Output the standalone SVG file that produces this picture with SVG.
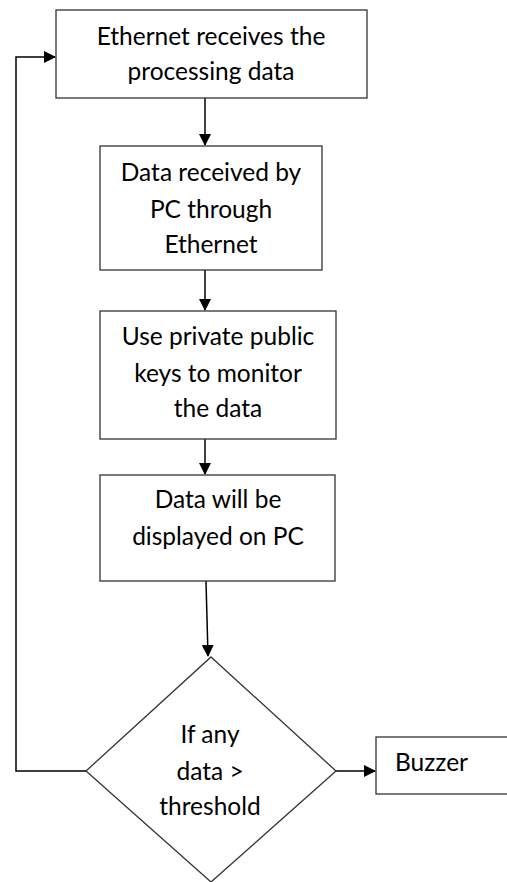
<svg xmlns="http://www.w3.org/2000/svg" width="507" height="882" viewBox="0 0 507 882">
<style>
.n{fill:#fff;stroke:#333;stroke-width:1.3}
.c{fill:none;stroke:#000;stroke-width:1.5}
text{font-family:Lato,"Open Sans",sans-serif;font-size:24.5px;fill:#000;text-anchor:middle}
</style>
<defs>
<marker id="a" markerWidth="12" markerHeight="12" refX="11" refY="6" orient="auto" markerUnits="userSpaceOnUse">
<path d="M0,0 L12,6 L0,12 Z" fill="#000"/>
</marker>
</defs>
<rect width="507" height="882" fill="#fff"/>
<g id="connectors">
<line class="c" x1="205" y1="98" x2="205" y2="145" marker-end="url(#a)"/>
<line class="c" x1="205" y1="270" x2="205" y2="310" marker-end="url(#a)"/>
<line class="c" x1="205" y1="439" x2="205" y2="474" marker-end="url(#a)"/>
<line class="c" x1="206" y1="581" x2="208" y2="656" marker-end="url(#a)"/>
<line class="c" x1="336" y1="771" x2="375" y2="771" marker-end="url(#a)"/>
<polyline class="c" points="86,771 16,771 16,57 55,57" marker-end="url(#a)"/>
</g>
<g id="n1">
<rect class="n" x="56" y="10" width="311" height="88"/>
<text x="211" y="45">Ethernet receives the</text>
<text x="211" y="80">processing data</text>
</g>
<g id="n2">
<rect class="n" x="100" y="146" width="222" height="124"/>
<text x="211" y="181">Data received by</text>
<text x="211" y="218">PC through</text>
<text x="211" y="253">Ethernet</text>
</g>
<g id="n3">
<rect class="n" x="100" y="311" width="236" height="128"/>
<text x="218" y="345">Use private public</text>
<text x="218" y="382">keys to monitor</text>
<text x="218" y="417">the data</text>
</g>
<g id="n4">
<rect class="n" x="100" y="475" width="235" height="106"/>
<text x="218" y="508">Data will be</text>
<text x="218" y="545">displayed on PC</text>
</g>
<g id="n5">
<polygon class="n" points="211,657 336,771 211,882 86,771"/>
<text x="210" y="743">If any</text>
<text x="210" y="780">data &gt;</text>
<text x="210" y="815">threshold</text>
</g>
<g id="n6">
<rect class="n" x="376" y="737" width="140" height="57"/>
<text x="395" y="771" style="text-anchor:start">Buzzer</text>
</g>
</svg>
